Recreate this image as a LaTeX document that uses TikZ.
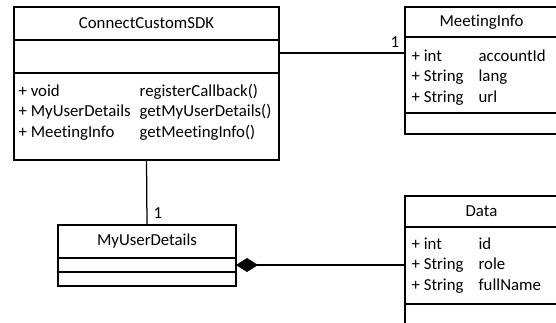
\documentclass[tikz,border=0pt]{standalone}
\usepackage{fontspec}
\setmainfont{Carlito}[Ligatures=NoCommon]
\usetikzlibrary{positioning,calc,arrows.meta}

\begin{document}
\begin{tikzpicture}[x=1pt, y=-1pt, line width=1.25pt,
  font=\fontsize{16.8}{20.5}\selectfont,
  part/.style={draw, anchor=north west, inner sep=0pt, outer sep=0pt},
  rows/.style={anchor=base west, inner sep=0pt, align=left}]
\useasboundingbox (0,0) rectangle (556,322);
\clip (0,0) rectangle (556,322);

% ConnectCustomSDK
\node[part, minimum width=265, minimum height=33] (sdkname) at (14,7) {\raisebox{-1.5pt}{ConnectCustomSDK}};
\node[part, minimum width=265, minimum height=33] (sdkattr) at (sdkname.south west) {};
\node[part, minimum width=265, minimum height=87] (sdkops) at (sdkattr.south west) {};
\node[rows] (sdkopstxt) at ($(sdkops.north west)+(4,23.3)$)
  {\begin{tabular}[t]{@{}p{121pt}@{}l@{}}
   + void & registerCallback()\\
   + MyUserDetails & getMyUserDetails()\\
   + MeetingInfo & getMeetingInfo()
   \end{tabular}};

% MeetingInfo
\node[part, minimum width=165, minimum height=30] (meetname) at (405,7) {\hspace*{-12pt}\raisebox{-1.5pt}{MeetingInfo}};
\node[part, minimum width=165, minimum height=76] (meetattr) at (meetname.south west) {};
\node[part, minimum width=165, minimum height=21] (meetops) at (meetattr.south west) {};
\node[rows] (meetattrtxt) at ($(meetattr.north west)+(6,24)$)
  {\begin{tabular}[t]{@{}p{67pt}@{}l@{}}
   + int & accountId\\
   + String & lang\\
   + String & url
   \end{tabular}};

% MyUserDetails
\node[part, minimum width=178, minimum height=33] (mudname) at (58,225) {\raisebox{-1.5pt}{MyUserDetails}};
\node[part, minimum width=178, minimum height=14] (mudattr) at (mudname.south west) {};
\node[part, minimum width=178, minimum height=14] (mudops) at (mudattr.south west) {};

% Data
\node[part, minimum width=165, minimum height=31] (dataname) at (405,196) {\hspace*{-12pt}\raisebox{-1.5pt}{Data}};
\node[part, minimum width=165, minimum height=77] (dataattr) at (dataname.south west) {};
\node[part, minimum width=165, minimum height=40] (dataops) at (dataattr.south west) {};
\node[rows] (dataattrtxt) at ($(dataattr.north west)+(6,22)$)
  {\begin{tabular}[t]{@{}p{67pt}@{}l@{}}
   + int & id\\
   + String & role\\
   + String & fullName
   \end{tabular}};

% links
\draw ([yshift=3.5pt]sdkattr.east) -- ([yshift=3.5pt]sdkattr.east -| meetattr.west);
\node (meetone) at (395,42) {1};
\draw (sdkops.south) -- (mudname.north);
\node (mudone) at (158,213) {1};
\draw[{Diamond[length=22pt,width=14pt]}-] (mudattr.east) -- (mudattr.east -| dataattr.west);
\end{tikzpicture}
\end{document}
